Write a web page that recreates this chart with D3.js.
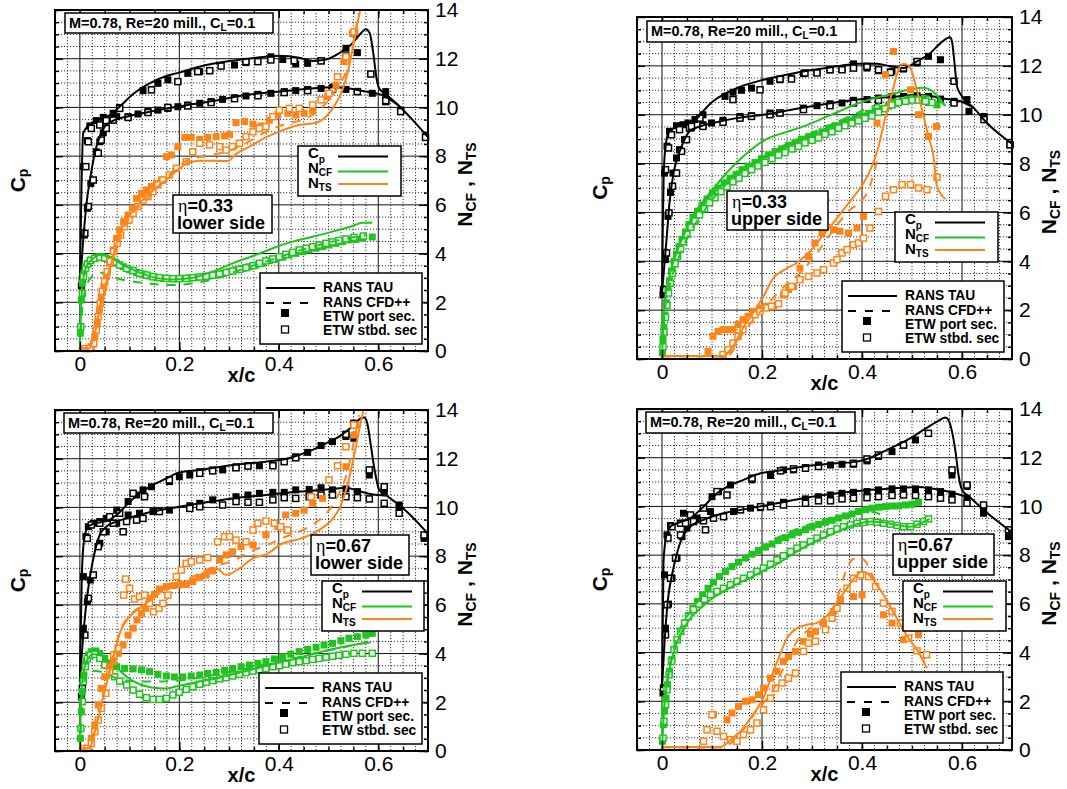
<!DOCTYPE html>
<html><head><meta charset="utf-8">
<script src="https://cdn.jsdelivr.net/npm/d3@7"></script>
<style>
body{margin:0;background:#fff}
svg{display:block}
text{font-family:"Liberation Sans",Arial,Helvetica,sans-serif}
</style></head>
<body><svg id="chart" width="1067" height="789"></svg>
<script>
// ---------- axes / labels ----------
const xDomain = [-0.05, 0.7];
const nDomain = [0, 14];
const xTicks = [0, 0.2, 0.4, 0.6];
const xTickLabels = ["0", "0.2", "0.4", "0.6"];
const nTicks = [0, 2, 4, 6, 8, 10, 12, 14];
const etaLabels = ["0.33", "0.33", "0.67", "0.67"];
const sideLabels = ["lower side", "upper side", "lower side", "upper side"];
const legendA = [["C", "p"], ["N", "CF"], ["N", "TS"]];
const legendB = ["RANS TAU", "RANS CFD++", "ETW port sec.", "ETW stbd. sec"];

// ---------- panel 1 : eta=0.33 lower side ----------
const p1CpTauUp = [[0,2.64],[0.0067,8.94],[0.0167,9.24],[0.033,9.48],[0.06,9.69],[0.08,10.03],[0.107,10.55],[0.14,10.99],[0.174,11.29],[0.2,11.43],[0.24,11.67],[0.307,11.92],[0.374,12.08],[0.40,12.12],[0.441,12.04],[0.468,11.91],[0.495,11.97],[0.521,12.22],[0.548,12.63],[0.568,13.11],[0.575,13.21],[0.583,13.04],[0.59,12.22],[0.596,11.26],[0.602,10.78],[0.615,10.55],[0.642,10.06],[0.668,9.51],[0.699,8.80]];
const p1CpTauLo = [[0,2.64],[0.0067,4.56],[0.0134,6.06],[0.0214,7.16],[0.03,8.12],[0.04,8.80],[0.05,9.21],[0.067,9.46],[0.094,9.62],[0.134,9.79],[0.174,9.96],[0.214,10.09],[0.267,10.26],[0.334,10.51],[0.401,10.65],[0.461,10.77],[0.508,10.83],[0.541,10.78],[0.575,10.65],[0.608,10.51],[0.642,10.06]];
const p1CpPort = [[0.003,2.67],[0.007,7.57],[0.015,8.64],[0.02,9.24],[0.033,9.46],[0.047,9.59],[0.067,9.76],[0.08,10.0],[0.127,10.69],[0.144,10.74],[0.157,10.99],[0.177,11.13],[0.217,11.40],[0.241,11.47],[0.261,11.51],[0.311,11.74],[0.334,11.84],[0.384,12.08],[0.408,11.97],[0.434,11.78],[0.458,11.81],[0.485,11.92],[0.535,12.43],[0.558,12.25],[0.615,10.65],[0.645,9.89],[0.695,8.80],
  [0.009,4.76],[0.015,5.86],[0.022,6.88],[0.033,8.18],[0.04,8.59],[0.047,8.96],[0.06,9.48],[0.074,9.62],[0.097,9.62],[0.117,9.73],[0.137,9.83],[0.157,9.89],[0.177,9.96],[0.197,10.03],[0.217,10.10],[0.241,10.17],[0.264,10.24],[0.287,10.33],[0.311,10.40],[0.334,10.47],[0.358,10.54],[0.384,10.58],[0.411,10.65],[0.434,10.69],[0.458,10.74],[0.485,10.78],[0.508,10.83],[0.535,10.74],[0.558,10.65],[0.588,10.58],[0.615,10.31]];
const p1CpStbd = [[0.005,2.92],[0.012,7.57],[0.017,8.59],[0.023,9.14],[0.04,9.28],[0.053,9.46],[0.08,9.96],[0.144,10.72],[0.197,11.06],[0.237,11.47],[0.261,11.51],[0.284,11.70],[0.334,11.88],[0.358,11.88],[0.384,11.95],[0.431,11.92],[0.485,11.91],[0.535,12.11],[0.551,13.04],[0.585,11.37],[0.615,10.24],[0.645,9.83],[0.695,8.77],
  [0.01,4.83],[0.017,5.93],[0.027,7.02],[0.037,8.12],[0.043,8.66],[0.053,9.14],[0.067,9.48],[0.097,9.59],[0.137,9.79],[0.177,10.0],[0.217,10.06],[0.264,10.20],[0.311,10.36],[0.358,10.48],[0.411,10.61],[0.458,10.69],[0.508,10.74],[0.558,10.65],[0.615,10.28]];
const p1NcfTau = [[0,0.04],[0.003,2.09],[0.0067,2.92],[0.013,3.46],[0.027,3.80],[0.04,3.94],[0.053,3.90],[0.07,3.74],[0.087,3.53],[0.107,3.33],[0.134,3.12],[0.16,2.98],[0.187,2.94],[0.227,3.01],[0.267,3.26],[0.307,3.60],[0.348,3.90],[0.388,4.22],[0.428,4.49],[0.468,4.69],[0.508,4.90],[0.548,5.13],[0.568,5.27],[0.588,5.27]];
const p1NcfCfd = [[0,0.04],[0.0067,2.1],[0.02,2.95],[0.04,3.22],[0.067,3.02],[0.107,2.85],[0.147,2.75],[0.187,2.71],[0.227,2.78],[0.267,2.94],[0.307,3.22],[0.374,3.67],[0.441,4.12],[0.508,4.49],[0.575,4.76]];
const p1NcfPort = [[0.001,0.73],[0.003,2.09],[0.005,2.78],[0.008,3.19],[0.012,3.46],[0.017,3.60],[0.023,3.74],[0.033,3.85],[0.043,3.87],[0.053,3.80],[0.064,3.74],[0.074,3.60],[0.087,3.46],[0.10,3.33],[0.114,3.22],[0.127,3.16],[0.14,3.08],[0.154,3.02],[0.167,2.98],[0.18,2.97],[0.194,2.97],[0.207,2.98],[0.221,3.0],[0.234,3.02],[0.247,3.05],[0.261,3.08],[0.274,3.12],[0.287,3.19],[0.301,3.26],[0.314,3.33],[0.328,3.39],[0.341,3.46],[0.354,3.53],[0.368,3.60],[0.381,3.71],[0.394,3.76],[0.408,3.85],[0.421,3.94],[0.434,4.01],[0.448,4.08],[0.461,4.15],[0.475,4.22],[0.488,4.28],[0.501,4.35],[0.515,4.42],[0.528,4.49],[0.541,4.56],[0.555,4.58],[0.568,4.63],[0.588,4.68]];
const p1NcfStbd = [[0.002,1.0],[0.005,2.37],[0.007,3.05],[0.011,3.39],[0.015,3.57],[0.021,3.71],[0.03,3.80],[0.04,3.85],[0.05,3.82],[0.06,3.74],[0.07,3.65],[0.08,3.53],[0.094,3.39],[0.107,3.30],[0.12,3.19],[0.134,3.12],[0.147,3.05],[0.16,3.01],[0.174,2.98],[0.187,2.97],[0.2,2.97],[0.214,2.98],[0.227,3.01],[0.241,3.04],[0.254,3.07],[0.267,3.11],[0.281,3.16],[0.294,3.22],[0.307,3.28],[0.321,3.35],[0.334,3.42],[0.348,3.50],[0.361,3.60],[0.374,3.70],[0.388,3.78],[0.401,3.87],[0.414,3.97],[0.428,4.05],[0.441,4.15],[0.455,4.22],[0.468,4.28],[0.481,4.35],[0.495,4.42],[0.508,4.48],[0.521,4.54],[0.535,4.60],[0.551,4.67],[0.57,4.72]];
const p1NtsTau = [[0,0.1],[0.019,0.1],[0.03,0.73],[0.04,1.68],[0.053,2.78],[0.067,3.87],[0.08,4.83],[0.094,5.38],[0.114,5.93],[0.14,6.47],[0.174,7.02],[0.2,7.50],[0.221,7.75],[0.247,7.81],[0.274,7.81],[0.297,7.80],[0.314,8.09],[0.341,8.39],[0.374,8.77],[0.408,9.07],[0.441,9.28],[0.475,9.37],[0.498,9.69],[0.515,10.17],[0.528,10.72],[0.538,11.40],[0.548,12.36],[0.558,13.45],[0.567,14.3]];
const p1NtsCfd = [[0,0.1],[0.017,0.1],[0.027,0.59],[0.04,1.82],[0.067,3.87],[0.094,5.24],[0.14,6.34],[0.18,7.23],[0.214,7.80],[0.254,8.01],[0.294,8.18],[0.334,8.53],[0.374,9.0],[0.414,9.32],[0.455,9.55],[0.481,9.89],[0.501,10.31],[0.521,10.92],[0.538,11.61],[0.551,12.77],[0.56,13.86]];
const p1NtsPort = [[0.007,0.1],[0.015,0.1],[0.023,0.18],[0.03,0.59],[0.035,1.14],[0.039,1.68],[0.043,2.23],[0.048,2.64],[0.053,3.05],[0.06,3.60],[0.067,4.15],[0.074,4.63],[0.08,4.97],[0.088,5.31],[0.097,5.58],[0.106,5.86],[0.114,6.27],[0.124,6.47],[0.134,6.61],[0.144,6.75],[0.154,6.88],[0.164,7.02],[0.174,7.98],[0.184,8.05],[0.197,8.39],[0.211,8.77],[0.224,8.77],[0.241,8.69],[0.257,8.77],[0.274,8.80],[0.291,8.83],[0.301,8.88],[0.314,9.37],[0.331,9.42],[0.348,9.32],[0.364,9.24],[0.381,9.48],[0.398,9.69],[0.418,9.76],[0.434,9.69],[0.451,9.76],[0.468,9.85],[0.498,10.44],[0.515,10.92],[0.531,11.88],[0.548,13.04],[0.553,13.11]];
const p1NtsStbd = [[0.01,0.1],[0.02,0.1],[0.028,0.31],[0.033,0.86],[0.037,1.41],[0.041,1.96],[0.045,2.44],[0.05,2.85],[0.055,3.26],[0.061,3.67],[0.068,4.08],[0.075,4.42],[0.082,4.76],[0.09,5.10],[0.099,5.38],[0.107,5.65],[0.117,5.93],[0.127,6.20],[0.137,6.34],[0.147,6.54],[0.157,6.82],[0.167,7.02],[0.18,7.23],[0.194,7.50],[0.214,7.77],[0.227,8.18],[0.241,8.53],[0.261,8.46],[0.281,8.39],[0.294,8.25],[0.307,8.39],[0.321,8.53],[0.334,8.80],[0.348,9.0],[0.361,9.14],[0.374,9.21],[0.388,9.62],[0.401,9.89],[0.421,9.96],[0.441,9.96],[0.468,10.10],[0.485,10.31],[0.501,10.58],[0.518,11.26],[0.535,12.08],[0.551,13.11]];

// ---------- panel 2 : eta=0.33 upper side ----------
const p2CpTauUp = [[0,2.70],[0.004,7.89],[0.009,8.98],[0.015,9.32],[0.029,9.50],[0.049,9.66],[0.069,9.82],[0.082,10.14],[0.102,10.55],[0.129,10.89],[0.162,11.19],[0.203,11.43],[0.249,11.64],[0.296,11.82],[0.35,11.98],[0.39,12.09],[0.43,12.09],[0.457,11.98],[0.483,11.91],[0.51,12.18],[0.537,12.53],[0.557,12.93],[0.576,13.17],[0.58,13.0],[0.585,12.12],[0.59,11.16],[0.6,10.75],[0.624,10.27],[0.65,9.66],[0.70,8.81]];
const p2CpTauLo = [[0,2.70],[0.009,4.88],[0.015,6.39],[0.023,7.61],[0.032,8.30],[0.042,8.84],[0.055,9.32],[0.076,9.52],[0.102,9.66],[0.149,9.86],[0.203,10.0],[0.243,10.14],[0.296,10.34],[0.35,10.51],[0.403,10.64],[0.457,10.72],[0.51,10.81],[0.543,10.75],[0.57,10.64],[0.597,10.55],[0.624,10.27]];
const p2CpPort = [[0.002,2.63],[0.005,7.61],[0.01,8.71],[0.015,9.32],[0.029,9.55],[0.042,9.59],[0.052,9.66],[0.066,9.80],[0.082,10.0],[0.126,10.75],[0.142,10.92],[0.159,11.0],[0.179,11.09],[0.216,11.37],[0.236,11.43],[0.259,11.50],[0.283,11.68],[0.31,11.73],[0.336,11.84],[0.36,11.87],[0.383,12.08],[0.41,11.91],[0.433,11.80],[0.46,11.78],[0.483,11.87],[0.51,12.12],[0.533,12.39],[0.557,12.25],[0.61,10.62],[0.644,9.93],[0.696,8.77],
  [0.007,4.07],[0.012,5.84],[0.017,6.82],[0.022,7.61],[0.029,8.23],[0.035,8.57],[0.045,8.98],[0.059,9.46],[0.082,9.59],[0.099,9.66],[0.122,9.77],[0.156,9.93],[0.179,9.96],[0.216,10.07],[0.236,10.07],[0.283,10.27],[0.31,10.37],[0.336,10.45],[0.36,10.48],[0.383,10.59],[0.41,10.62],[0.433,10.68],[0.46,10.75],[0.483,10.75],[0.51,10.78],[0.533,10.75],[0.557,10.64],[0.584,10.55],[0.614,10.14]];
const p2CpStbd = [[0.003,2.84],[0.007,7.75],[0.013,8.64],[0.019,9.18],[0.035,9.39],[0.055,9.46],[0.076,9.86],[0.142,10.62],[0.196,11.02],[0.236,11.46],[0.259,11.46],[0.286,11.71],[0.31,11.71],[0.336,11.84],[0.36,11.84],[0.383,11.91],[0.41,11.98],[0.433,11.84],[0.457,11.73],[0.483,11.91],[0.51,12.18],[0.584,11.37],[0.644,9.80],[0.696,8.77],
  [0.009,4.34],[0.014,5.98],[0.021,7.07],[0.029,7.61],[0.039,8.50],[0.049,8.98],[0.059,9.52],[0.082,9.52],[0.122,9.69],[0.156,9.86],[0.179,9.93],[0.216,10.0],[0.236,10.07],[0.283,10.21],[0.336,10.37],[0.383,10.48],[0.433,10.59],[0.483,10.68],[0.533,10.68],[0.584,10.48]];
const p2NcfTau = [[0,0],[0.002,1.1],[0.005,2.2],[0.012,3.1],[0.02,3.8],[0.03,4.4],[0.042,5.0],[0.055,5.6],[0.076,6.3],[0.1,6.9],[0.12,7.4],[0.14,7.85],[0.16,8.25],[0.18,8.6],[0.2,8.9],[0.22,9.1],[0.25,9.3],[0.28,9.5],[0.31,9.75],[0.35,10.1],[0.39,10.45],[0.42,10.65],[0.46,10.85],[0.5,11.05],[0.523,11.1],[0.547,10.85],[0.567,10.35]];
const p2NcfCfd = [[0,0],[0.005,1.8],[0.015,3.0],[0.029,3.9],[0.049,4.9],[0.082,6.0],[0.116,6.9],[0.149,7.5],[0.182,8.0],[0.216,8.45],[0.249,8.8],[0.283,9.1],[0.316,9.4],[0.35,9.7],[0.383,10.0],[0.416,10.3],[0.45,10.55],[0.483,10.72],[0.517,10.78],[0.55,10.64],[0.567,10.34]];
const p2NcfPort = [[0.001,0.25],[0.002,0.8],[0.004,1.3],[0.006,1.8],[0.009,2.3],[0.012,2.8],[0.015,3.2],[0.019,3.6],[0.024,4.0],[0.029,4.3],[0.034,4.6],[0.04,4.9],[0.047,5.2],[0.054,5.5],[0.062,5.8],[0.071,6.05],[0.08,6.3],[0.09,6.55],[0.101,6.8],[0.112,7.0],[0.124,7.2],[0.136,7.4],[0.148,7.55],[0.16,7.75],[0.172,7.9],[0.186,8.05],[0.199,8.2],[0.213,8.35],[0.226,8.5],[0.239,8.6],[0.253,8.75],[0.266,8.85],[0.279,9.0],[0.293,9.1],[0.306,9.2],[0.32,9.3],[0.333,9.45],[0.346,9.55],[0.36,9.65],[0.373,9.75],[0.386,9.85],[0.4,9.95],[0.413,10.05],[0.426,10.15],[0.44,10.25],[0.453,10.35],[0.467,10.45],[0.48,10.55],[0.493,10.6],[0.507,10.65],[0.52,10.6],[0.533,10.5],[0.55,10.4]];
const p2NcfStbd = [[0.002,0.5],[0.004,1.1],[0.007,1.7],[0.01,2.2],[0.013,2.7],[0.017,3.1],[0.021,3.5],[0.026,3.9],[0.031,4.2],[0.037,4.5],[0.043,4.8],[0.05,5.1],[0.058,5.4],[0.066,5.65],[0.075,5.9],[0.085,6.15],[0.095,6.4],[0.106,6.6],[0.118,6.85],[0.13,7.05],[0.142,7.25],[0.154,7.4],[0.166,7.6],[0.179,7.75],[0.192,7.9],[0.206,8.05],[0.22,8.2],[0.233,8.35],[0.246,8.45],[0.26,8.6],[0.273,8.7],[0.286,8.85],[0.3,8.95],[0.313,9.05],[0.326,9.2],[0.34,9.3],[0.353,9.45],[0.366,9.55],[0.38,9.65],[0.393,9.75],[0.406,9.85],[0.42,9.95],[0.433,10.1],[0.446,10.25],[0.46,10.4],[0.473,10.5],[0.487,10.55],[0.5,10.6],[0.513,10.6],[0.527,10.55],[0.54,10.5]];
const p2NtsTau = [[0,0.12],[0.122,0.12],[0.142,0.52],[0.162,1.27],[0.182,1.88],[0.203,2.57],[0.223,3.32],[0.243,3.63],[0.269,3.93],[0.296,4.41],[0.323,5.09],[0.35,5.77],[0.376,6.45],[0.403,7.20],[0.42,7.89],[0.433,8.70],[0.447,9.93],[0.46,10.89],[0.473,11.84],[0.483,12.09],[0.495,11.98],[0.507,11.23],[0.52,10.21],[0.533,9.11],[0.543,8.30],[0.55,7.07],[0.567,6.55]];
const p2NtsCfd = [[0,0.1],[0.129,0.1],[0.162,1.06],[0.189,1.75],[0.216,2.36],[0.243,2.95],[0.276,3.52],[0.31,4.34],[0.343,5.29],[0.376,6.11],[0.4,6.49],[0.416,7.07],[0.426,7.82],[0.435,8.36]];
const p2NtsPort = [[0.092,0.31],[0.102,0.93],[0.112,1.13],[0.122,1.20],[0.132,1.20],[0.142,1.20],[0.152,1.41],[0.162,1.61],[0.172,1.75],[0.182,1.95],[0.196,2.09],[0.209,2.16],[0.223,2.16],[0.243,2.63],[0.253,2.84],[0.263,2.97],[0.276,3.72],[0.293,4.20],[0.306,4.75],[0.32,5.16],[0.343,5.29],[0.356,5.23],[0.373,5.16],[0.39,5.36],[0.403,5.84],[0.43,9.66],[0.447,11.64],[0.463,12.59],[0.497,11.02],[0.513,10.0],[0.533,9.11],[0.549,9.52]];
const p2NtsStbd = [[0.122,0.18],[0.132,0.38],[0.142,0.65],[0.152,0.93],[0.162,1.20],[0.176,1.61],[0.186,1.81],[0.196,1.95],[0.209,2.09],[0.219,2.16],[0.233,2.26],[0.246,2.70],[0.259,2.97],[0.276,3.25],[0.293,3.38],[0.31,3.52],[0.323,3.66],[0.343,3.93],[0.35,4.07],[0.36,4.34],[0.37,4.48],[0.383,4.68],[0.393,4.75],[0.403,4.95],[0.416,5.36],[0.433,6.04],[0.447,6.66],[0.463,6.93],[0.48,7.14],[0.497,7.14],[0.513,7.0],[0.53,6.93],[0.55,7.44]];

// ---------- panel 3 : eta=0.67 lower side ----------
const p3CpTauUp = [[0,2.85],[0.005,7.77],[0.01,8.87],[0.017,9.21],[0.03,9.35],[0.053,9.44],[0.074,9.69],[0.094,10.10],[0.12,10.58],[0.147,10.92],[0.174,11.19],[0.2,11.44],[0.241,11.54],[0.307,11.74],[0.374,11.88],[0.414,11.99],[0.441,12.15],[0.468,12.36],[0.495,12.63],[0.521,12.91],[0.548,13.32],[0.565,13.66],[0.572,13.69],[0.578,13.45],[0.585,12.56],[0.592,11.61],[0.602,10.72],[0.615,10.51],[0.642,10.10],[0.668,9.62],[0.699,8.94]];
const p3CpTauLo = [[0,2.85],[0.008,5.04],[0.015,6.40],[0.021,7.23],[0.03,8.18],[0.04,8.87],[0.053,9.21],[0.074,9.42],[0.107,9.62],[0.147,9.83],[0.2,10.03],[0.241,10.17],[0.307,10.37],[0.374,10.51],[0.441,10.65],[0.508,10.76],[0.535,10.81],[0.561,10.67],[0.588,10.54],[0.615,10.48]];
const p3CpPort = [[0.003,2.23],[0.007,7.16],[0.012,8.80],[0.017,9.21],[0.027,9.35],[0.04,9.42],[0.053,9.55],[0.074,9.89],[0.097,10.24],[0.114,10.51],[0.127,10.72],[0.144,10.85],[0.18,11.06],[0.2,11.26],[0.221,11.33],[0.241,11.47],[0.267,11.54],[0.287,11.54],[0.314,11.67],[0.338,11.71],[0.361,11.71],[0.388,11.74],[0.411,11.88],[0.434,12.08],[0.458,12.26],[0.485,12.54],[0.508,12.70],[0.535,12.91],[0.551,12.84],[0.582,11.33],[0.612,10.65],[0.642,10.03],[0.692,8.73],
  [0.007,5.04],[0.015,6.13],[0.021,7.02],[0.04,8.53],[0.053,9.0],[0.074,9.35],[0.097,9.69],[0.12,9.76],[0.147,9.83],[0.18,9.89],[0.221,10.07],[0.241,10.17],[0.267,10.31],[0.314,10.44],[0.338,10.51],[0.361,10.58],[0.388,10.62],[0.411,10.62],[0.434,10.72],[0.461,10.74],[0.485,10.81],[0.508,10.72],[0.535,10.76],[0.558,10.65],[0.612,10.76],[0.642,10.10]];
const p3CpStbd = [[0.005,2.57],[0.01,4.76],[0.015,8.73],[0.023,9.28],[0.04,9.35],[0.06,9.62],[0.08,9.76],[0.107,10.58],[0.13,10.44],[0.18,11.13],[0.241,11.40],[0.267,11.50],[0.314,11.63],[0.338,11.70],[0.388,11.71],[0.411,11.88],[0.434,12.04],[0.535,13.0],[0.551,13.45],[0.582,11.54],[0.612,10.85],[0.642,9.76],[0.692,8.87],
  [0.017,6.27],[0.027,7.23],[0.037,8.39],[0.047,9.0],[0.067,9.35],[0.087,9.0],[0.094,9.42],[0.114,9.48],[0.127,9.55],[0.16,9.83],[0.221,9.96],[0.241,10.03],[0.287,10.10],[0.314,10.24],[0.338,10.21],[0.361,10.21],[0.388,10.31],[0.411,10.40],[0.434,10.37],[0.461,10.44],[0.485,10.51],[0.508,10.51],[0.535,10.44],[0.558,10.40],[0.582,10.35],[0.612,10.17]];
const p3NcfTau = [[0,0.04],[0.003,2.30],[0.008,3.26],[0.015,3.74],[0.027,3.97],[0.04,3.94],[0.053,3.78],[0.07,3.50],[0.094,3.05],[0.12,2.74],[0.147,2.60],[0.174,2.57],[0.2,2.68],[0.241,2.85],[0.281,3.01],[0.321,3.22],[0.361,3.42],[0.401,3.64],[0.441,3.83],[0.481,4.05],[0.521,4.24],[0.561,4.39],[0.585,4.46]];
const p3NcfCfd = [[0,0.04],[0.007,2.55],[0.017,3.3],[0.04,3.26],[0.074,2.98],[0.107,2.87],[0.147,2.85],[0.187,2.87],[0.227,2.98],[0.267,3.12],[0.321,3.33],[0.374,3.56],[0.428,3.80],[0.481,4.05],[0.535,4.28],[0.585,4.49]];
const p3NcfPort = [[0.001,0.52],[0.003,1.61],[0.005,2.44],[0.008,3.12],[0.012,3.67],[0.017,3.94],[0.023,4.08],[0.032,4.11],[0.04,4.01],[0.05,3.80],[0.06,3.60],[0.074,3.46],[0.09,3.39],[0.107,3.37],[0.124,3.33],[0.14,3.26],[0.157,3.15],[0.174,3.08],[0.19,3.04],[0.207,3.04],[0.224,3.08],[0.241,3.12],[0.257,3.18],[0.274,3.23],[0.291,3.31],[0.307,3.39],[0.324,3.46],[0.341,3.53],[0.358,3.60],[0.374,3.67],[0.391,3.78],[0.408,3.87],[0.424,3.97],[0.441,4.08],[0.458,4.17],[0.475,4.26],[0.491,4.35],[0.508,4.42],[0.525,4.53],[0.541,4.63],[0.558,4.69],[0.575,4.76],[0.588,4.83]];
const p3NcfStbd = [[0.002,0.93],[0.005,2.03],[0.007,2.85],[0.011,3.46],[0.015,3.80],[0.021,3.94],[0.03,3.97],[0.04,3.80],[0.05,3.53],[0.06,3.26],[0.07,3.05],[0.08,2.87],[0.094,2.71],[0.107,2.50],[0.12,2.33],[0.134,2.19],[0.147,2.12],[0.16,2.12],[0.174,2.16],[0.187,2.30],[0.2,2.41],[0.214,2.53],[0.227,2.64],[0.241,2.74],[0.254,2.82],[0.267,2.89],[0.281,2.96],[0.294,3.01],[0.307,3.08],[0.321,3.15],[0.334,3.22],[0.348,3.28],[0.361,3.34],[0.374,3.39],[0.388,3.46],[0.401,3.50],[0.414,3.56],[0.428,3.63],[0.441,3.67],[0.455,3.71],[0.468,3.76],[0.481,3.80],[0.495,3.85],[0.508,3.89],[0.521,3.93],[0.535,3.97],[0.551,4.01],[0.568,4.01],[0.588,4.01]];
const p3NtsTau = [[0,0.1],[0.019,0.1],[0.03,0.79],[0.04,1.61],[0.053,2.71],[0.067,3.80],[0.08,4.83],[0.10,5.52],[0.12,5.86],[0.147,6.27],[0.174,6.68],[0.2,6.84],[0.227,7.06],[0.254,7.36],[0.274,7.50],[0.294,7.23],[0.321,7.50],[0.348,7.91],[0.374,8.07],[0.408,8.53],[0.441,8.70],[0.481,9.07],[0.508,9.53],[0.525,10.10],[0.538,10.92],[0.549,11.88],[0.561,13.11],[0.572,14.2]];
const p3NtsCfd = [[0,0.1],[0.019,0.1],[0.03,0.86],[0.04,1.68],[0.053,2.78],[0.067,3.87],[0.08,4.87],[0.10,5.56],[0.12,5.91],[0.147,6.34],[0.174,6.73],[0.2,6.92],[0.227,7.16],[0.254,7.43],[0.281,7.64],[0.307,7.80],[0.341,8.18],[0.374,8.43],[0.414,8.80],[0.455,9.14],[0.481,9.48],[0.501,9.89],[0.521,10.58],[0.538,11.47],[0.551,12.70],[0.561,13.79]];
const p3NtsPort = [[0.01,0.1],[0.017,0.11],[0.023,0.52],[0.03,1.07],[0.037,1.89],[0.043,2.57],[0.05,3.05],[0.059,3.46],[0.067,3.67],[0.077,4.01],[0.087,4.35],[0.097,4.76],[0.107,5.04],[0.115,5.38],[0.124,5.65],[0.132,5.86],[0.14,6.27],[0.15,6.43],[0.16,6.65],[0.174,6.75],[0.187,6.79],[0.2,6.82],[0.214,6.84],[0.227,6.95],[0.241,7.12],[0.254,7.23],[0.267,7.39],[0.281,7.84],[0.294,8.05],[0.307,8.18],[0.324,8.39],[0.348,8.46],[0.374,8.87],[0.398,9.21],[0.414,9.69],[0.434,9.76],[0.451,9.89],[0.468,10.17],[0.488,10.37],[0.535,11.67],[0.551,12.97],[0.555,13.38]];
const p3NtsStbd = [[0.007,0.1],[0.015,0.11],[0.023,0.31],[0.03,0.79],[0.037,1.27],[0.043,1.75],[0.052,2.37],[0.06,3.26],[0.068,3.94],[0.077,4.22],[0.092,7.06],[0.088,6.40],[0.1,6.68],[0.11,6.24],[0.12,6.34],[0.13,6.40],[0.14,6.06],[0.148,5.72],[0.159,5.86],[0.167,6.06],[0.177,6.40],[0.194,7.16],[0.204,7.43],[0.214,7.70],[0.224,7.77],[0.241,7.84],[0.257,7.94],[0.277,8.59],[0.291,8.80],[0.301,8.80],[0.314,8.66],[0.334,8.59],[0.348,9.07],[0.358,9.35],[0.374,9.44],[0.391,9.35],[0.404,9.21],[0.418,9.07],[0.465,10.44],[0.501,11.13],[0.518,11.71],[0.535,12.49],[0.551,13.38]];

// ---------- panel 4 : eta=0.67 upper side ----------
const p4CpTauUp = [[0,2.54],[0.003,7.74],[0.009,8.83],[0.017,9.17],[0.03,9.31],[0.057,9.52],[0.083,9.99],[0.11,10.54],[0.137,10.88],[0.163,11.09],[0.197,11.36],[0.23,11.46],[0.283,11.64],[0.35,11.77],[0.39,11.84],[0.417,12.0],[0.443,12.25],[0.47,12.52],[0.497,12.80],[0.523,13.14],[0.55,13.48],[0.567,13.65],[0.573,13.55],[0.58,13.07],[0.587,12.25],[0.593,11.29],[0.60,10.68],[0.617,10.36],[0.643,9.86],[0.70,8.94]];
const p4CpTauLo = [[0,2.54],[0.007,5.0],[0.013,6.37],[0.02,7.19],[0.029,8.01],[0.04,8.70],[0.057,9.17],[0.083,9.45],[0.123,9.72],[0.177,9.93],[0.23,10.13],[0.283,10.34],[0.35,10.54],[0.417,10.68],[0.483,10.77],[0.51,10.80],[0.537,10.75],[0.563,10.65],[0.59,10.51],[0.617,10.36]];
const p4CpPort = [[0.002,2.34],[0.005,7.19],[0.01,8.83],[0.017,9.22],[0.043,9.72],[0.1,10.40],[0.113,10.61],[0.137,10.88],[0.18,11.09],[0.217,11.27],[0.243,11.50],[0.263,11.50],[0.287,11.59],[0.313,11.70],[0.337,11.70],[0.36,11.73],[0.383,11.73],[0.41,11.87],[0.433,12.05],[0.46,12.25],[0.483,12.52],[0.507,12.73],[0.58,11.29],[0.61,10.82],[0.643,9.72],[0.693,8.76],
  [0.007,5.0],[0.013,5.99],[0.02,7.05],[0.03,7.88],[0.04,8.76],[0.05,9.11],[0.07,9.52],[0.097,9.79],[0.143,9.79],[0.177,9.93],[0.197,9.95],[0.217,10.06],[0.243,10.17],[0.287,10.31],[0.313,10.40],[0.337,10.47],[0.36,10.54],[0.383,10.58],[0.41,10.61],[0.433,10.68],[0.46,10.72],[0.483,10.72],[0.507,10.72],[0.533,10.68],[0.557,10.61],[0.58,10.50],[0.61,10.34],[0.643,9.93]];
const p4CpStbd = [[0.003,2.54],[0.007,4.73],[0.012,8.70],[0.02,9.17],[0.037,9.31],[0.057,9.65],[0.083,9.93],[0.11,10.61],[0.13,10.47],[0.18,11.16],[0.237,11.46],[0.263,11.54],[0.287,11.57],[0.313,11.64],[0.383,11.77],[0.41,11.95],[0.433,12.11],[0.483,12.52],[0.533,13.0],[0.58,11.50],[0.61,10.88],[0.643,10.06],[0.693,9.04],
  [0.01,5.96],[0.017,7.05],[0.027,7.88],[0.037,8.83],[0.047,9.31],[0.063,9.38],[0.083,9.41],[0.087,9.04],[0.103,9.52],[0.123,9.58],[0.157,9.86],[0.197,9.99],[0.217,9.99],[0.243,10.06],[0.287,10.13],[0.313,10.23],[0.337,10.23],[0.36,10.31],[0.383,10.34],[0.41,10.36],[0.433,10.40],[0.46,10.45],[0.483,10.47],[0.507,10.45],[0.533,10.40],[0.557,10.34],[0.58,10.27],[0.61,10.13]];
const p4NcfTau = [[0,0],[0.002,0.90],[0.005,1.86],[0.01,2.68],[0.017,3.50],[0.027,4.25],[0.04,4.87],[0.057,5.41],[0.077,5.82],[0.097,6.17],[0.123,6.51],[0.15,6.81],[0.177,7.08],[0.203,7.36],[0.23,7.63],[0.257,7.98],[0.283,8.31],[0.31,8.59],[0.337,8.83],[0.363,9.08],[0.39,9.27],[0.417,9.38],[0.443,9.35],[0.47,9.24],[0.497,9.17],[0.517,9.31],[0.535,9.49]];
const p4NcfCfd = [[0,0],[0.003,1.45],[0.01,2.82],[0.02,3.91],[0.037,5.0],[0.057,5.69],[0.083,6.37],[0.11,6.99],[0.137,7.47],[0.163,7.88],[0.19,8.22],[0.217,8.56],[0.25,8.90],[0.283,9.17],[0.323,9.45],[0.363,9.65],[0.397,9.76],[0.423,9.76],[0.44,9.63]];
const p4NcfPort = [[0.001,0.36],[0.003,1.04],[0.005,1.59],[0.008,2.13],[0.011,2.68],[0.015,3.23],[0.02,3.71],[0.025,4.12],[0.031,4.53],[0.038,4.87],[0.045,5.21],[0.053,5.52],[0.062,5.82],[0.071,6.10],[0.081,6.37],[0.092,6.64],[0.103,6.89],[0.115,7.12],[0.127,7.33],[0.14,7.53],[0.153,7.71],[0.167,7.88],[0.18,8.04],[0.193,8.19],[0.207,8.33],[0.22,8.46],[0.233,8.60],[0.247,8.72],[0.26,8.83],[0.273,8.94],[0.287,9.05],[0.30,9.16],[0.313,9.26],[0.327,9.35],[0.34,9.43],[0.353,9.52],[0.367,9.61],[0.38,9.69],[0.393,9.79],[0.407,9.86],[0.42,9.93],[0.433,9.97],[0.447,9.99],[0.46,10.02],[0.473,10.02],[0.487,10.06],[0.50,10.09],[0.513,10.17]];
const p4NcfStbd = [[0.002,0.49],[0.004,1.18],[0.007,1.86],[0.01,2.47],[0.014,3.09],[0.019,3.64],[0.024,4.12],[0.03,4.53],[0.037,4.87],[0.045,5.21],[0.053,5.48],[0.063,5.76],[0.074,5.99],[0.085,6.19],[0.097,6.37],[0.11,6.51],[0.123,6.64],[0.137,6.78],[0.15,6.92],[0.163,7.05],[0.177,7.19],[0.19,7.33],[0.203,7.47],[0.217,7.63],[0.23,7.81],[0.243,7.98],[0.257,8.15],[0.27,8.29],[0.283,8.42],[0.297,8.56],[0.31,8.70],[0.323,8.83],[0.337,8.97],[0.35,9.08],[0.363,9.17],[0.377,9.24],[0.39,9.31],[0.403,9.35],[0.417,9.38],[0.43,9.35],[0.443,9.31],[0.457,9.27],[0.47,9.22],[0.483,9.17],[0.497,9.17],[0.51,9.27],[0.523,9.38],[0.533,9.49]];
const p4NtsTau = [[0,0.12],[0.117,0.12],[0.137,0.42],[0.157,0.77],[0.177,1.31],[0.193,1.79],[0.207,2.34],[0.22,3.09],[0.233,3.77],[0.25,4.59],[0.27,5.0],[0.29,5.14],[0.31,5.22],[0.33,5.52],[0.35,6.07],[0.37,6.64],[0.387,7.12],[0.40,7.33],[0.413,7.22],[0.427,6.85],[0.443,6.37],[0.46,5.76],[0.477,5.14],[0.493,4.59],[0.51,4.12],[0.53,3.36]];
const p4NtsCfd = [[0,0.1],[0.123,0.1],[0.147,0.49],[0.17,1.04],[0.193,1.72],[0.217,2.27],[0.243,3.36],[0.27,4.46],[0.297,5.0],[0.323,5.28],[0.343,5.82],[0.357,6.64],[0.37,7.47],[0.383,7.85],[0.395,7.90],[0.407,7.74],[0.417,7.33],[0.427,6.92]];
const p4NtsPort = [[0.103,1.45],[0.13,1.24],[0.14,1.52],[0.153,1.79],[0.167,2.0],[0.18,2.06],[0.193,2.27],[0.203,2.54],[0.217,2.95],[0.23,3.23],[0.243,3.64],[0.253,3.84],[0.267,4.05],[0.283,4.46],[0.297,4.76],[0.307,4.87],[0.323,5.21],[0.343,5.69],[0.357,6.17],[0.383,6.30],[0.40,6.37],[0.443,5.55],[0.46,5.21],[0.483,4.53],[0.513,4.73]];
const p4NtsStbd = [[0.083,0.36],[0.09,0.83],[0.1,1.45],[0.11,0.77],[0.123,0.56],[0.137,0.42],[0.15,0.36],[0.163,0.63],[0.177,0.83],[0.19,1.11],[0.203,1.65],[0.217,2.13],[0.227,2.54],[0.24,2.75],[0.253,2.95],[0.267,3.16],[0.283,4.05],[0.293,4.39],[0.307,4.46],[0.327,4.94],[0.34,5.41],[0.35,5.82],[0.37,6.64],[0.383,7.05],[0.397,7.19],[0.413,7.12],[0.427,6.71],[0.443,6.03],[0.46,5.69],[0.477,5.21],[0.493,4.59],[0.51,4.07],[0.529,3.91]];

// ---------- layout ----------
const panels = [
  {plot:[55,10,428,351], mBox:[65,13,208,20], etaBox:[173,195,99,38], legA:[298,146,103,50], legB:[260,273,162,71],
   cp:[p1CpTauUp,p1CpTauLo], cpPort:p1CpPort, cpStbd:p1CpStbd, ncfTau:p1NcfTau, ncfCfd:p1NcfCfd, ncfPort:p1NcfPort, ncfStbd:p1NcfStbd, ntsTau:p1NtsTau, ntsCfd:p1NtsCfd, ntsPort:p1NtsPort, ntsStbd:p1NtsStbd},
  {plot:[637,17,1012,359], mBox:[647,21,209,21], etaBox:[727,191,101,39], legA:[895,212,103,50], legB:[842,281,162,71],
   cp:[p2CpTauUp,p2CpTauLo], cpPort:p2CpPort, cpStbd:p2CpStbd, ncfTau:p2NcfTau, ncfCfd:p2NcfCfd, ncfPort:p2NcfPort, ncfStbd:p2NcfStbd, ntsTau:p2NtsTau, ntsCfd:p2NtsCfd, ntsPort:p2NtsPort, ntsStbd:p2NtsStbd},
  {plot:[55,410,428,751], mBox:[64,413,209,20], etaBox:[311,535,98,40], legA:[322,581,102,50], legB:[259,673,163,71],
   cp:[p3CpTauUp,p3CpTauLo], cpPort:p3CpPort, cpStbd:p3CpStbd, ncfTau:p3NcfTau, ncfCfd:p3NcfCfd, ncfPort:p3NcfPort, ncfStbd:p3NcfStbd, ntsTau:p3NtsTau, ntsCfd:p3NtsCfd, ntsPort:p3NtsPort, ntsStbd:p3NtsStbd},
  {plot:[637,409,1012,750], mBox:[646,412,209,21], etaBox:[893,534,101,41], legA:[903,581,103,50], legB:[841,672,162,71],
   cp:[p4CpTauUp,p4CpTauLo], cpPort:p4CpPort, cpStbd:p4CpStbd, ncfTau:p4NcfTau, ncfCfd:p4NcfCfd, ncfPort:p4NcfPort, ncfStbd:p4NcfStbd, ntsTau:p4NtsTau, ntsCfd:p4NtsCfd, ntsPort:p4NtsPort, ntsStbd:p4NtsStbd}
];

const BLACK = "#000", GREEN = "#1fc41f", ORANGE = "#ff8417";
const svg = d3.select("#chart");

panels.forEach((P, pi) => {
  const [l, t, r, b] = P.plot;
  const x = d3.scaleLinear().domain(xDomain).range([l, r]);
  const y = d3.scaleLinear().domain(nDomain).range([b, t]);
  const g = svg.append("g");
  const clipId = "clip" + pi;
  g.append("clipPath").attr("id", clipId).append("rect")
    .attr("x", l).attr("y", t).attr("width", r - l + 4).attr("height", b - t + 4);

  // grid
  const grid = g.append("g");
  d3.range(-1, 28).forEach(i => {
    const v = i * 0.025, major = (i % 8 === 0);
    grid.append("line").attr("x1", x(v)).attr("x2", x(v)).attr("y1", t).attr("y2", b)
      .attr("stroke", major ? "#111" : "#222").attr("stroke-width", major ? 1 : 0.9)
      .attr("stroke-dasharray", major ? null : "1.2,1.8");
  });
  d3.range(1, 28).forEach(j => {
    const v = j * 0.5, major = (j % 4 === 0);
    grid.append("line").attr("x1", l).attr("x2", r).attr("y1", y(v)).attr("y2", y(v))
      .attr("stroke", major ? "#111" : "#222").attr("stroke-width", major ? 1 : 0.9)
      .attr("stroke-dasharray", major ? null : "1.2,1.8");
  });

  const data = g.append("g").attr("clip-path", `url(#${clipId})`);
  const line = d3.line().x(d => x(d[0])).y(d => y(d[1])).curve(d3.curveMonotoneX);
  const filled = (arr, col, s) => data.append("g").selectAll("rect").data(arr).join("rect")
    .attr("x", d => x(d[0]) - s / 2).attr("y", d => y(d[1]) - s / 2)
    .attr("width", s).attr("height", s).attr("fill", col);
  const hollow = (arr, col, s) => data.append("g").selectAll("rect").data(arr).join("rect")
    .attr("x", d => x(d[0]) - s / 2).attr("y", d => y(d[1]) - s / 2)
    .attr("width", s).attr("height", s).attr("fill", "#fff").attr("stroke", col).attr("stroke-width", 1.5);
  const path = (arr, col, w, dash) => data.append("path").datum(arr).attr("d", line)
    .attr("fill", "none").attr("stroke", col).attr("stroke-width", w)
    .attr("stroke-dasharray", dash || null);

  // Cp
  filled(P.cpPort, BLACK, 7);
  hollow(P.cpStbd, BLACK, 6);
  P.cp.forEach(c => path(c, BLACK, 2));
  // N_CF
  filled(P.ncfPort, GREEN, 7);
  hollow(P.ncfStbd, GREEN, 6);
  path(P.ncfTau, GREEN, 2);
  path(P.ncfCfd, GREEN, 2, "9,8");
  // N_TS
  filled(P.ntsPort, ORANGE, 7);
  hollow(P.ntsStbd, ORANGE, 6);
  path(P.ntsTau, ORANGE, 2);
  path(P.ntsCfd, ORANGE, 2, "9,8");

  // axes
  const styleAxis = sel => { sel.select(".domain").remove(); sel.selectAll("line").attr("stroke", BLACK).attr("stroke-width", 1.4); };
  const minorN = d3.range(0, 28).map(j => j * 0.5);
  const minorX = d3.range(-1, 14).map(i => i * 0.05);
  g.append("g").attr("transform", `translate(${r},0)`)
    .call(d3.axisRight(y).tickValues(minorN).tickSize(-4).tickFormat("")).call(styleAxis);
  g.append("g").attr("transform", `translate(${l},0)`)
    .call(d3.axisLeft(y).tickValues(minorN).tickSize(-4).tickFormat("")).call(styleAxis);
  g.append("g").attr("transform", `translate(${l},0)`)
    .call(d3.axisLeft(y).tickValues(nTicks).tickSize(-8).tickFormat("")).call(styleAxis);
  g.append("g").attr("transform", `translate(0,${b})`)
    .call(d3.axisBottom(x).tickValues(minorX).tickSize(-4).tickFormat("")).call(styleAxis);
  g.append("g").attr("transform", `translate(0,${t})`)
    .call(d3.axisTop(x).tickValues(minorX).tickSize(-4).tickFormat("")).call(styleAxis);
  g.append("g").attr("transform", `translate(0,${t})`)
    .call(d3.axisTop(x).tickValues(xTicks).tickSize(-8).tickFormat("")).call(styleAxis);
  const ra = g.append("g").attr("transform", `translate(${r},0)`)
    .call(d3.axisRight(y).tickValues(nTicks).tickSize(-9).tickPadding(7).tickFormat(d3.format("d"))).call(styleAxis);
  ra.selectAll("text").attr("font-size", 21).attr("fill", BLACK).style("font-family", '"Liberation Sans",Arial,sans-serif');
  const ba = g.append("g").attr("transform", `translate(0,${b})`)
    .call(d3.axisBottom(x).tickValues(xTicks).tickSize(-9).tickPadding(5).tickFormat((d, i) => xTickLabels[i])).call(styleAxis);
  ba.selectAll("text").attr("font-size", 21).attr("fill", BLACK).style("font-family", '"Liberation Sans",Arial,sans-serif');

  // frame
  g.append("rect").attr("x", l).attr("y", t).attr("width", r - l).attr("height", b - t)
    .attr("fill", "none").attr("stroke", BLACK).attr("stroke-width", 2);

  // axis titles
  const xc = (l + r) / 2, yc = (t + b) / 2;
  g.append("text").attr("x", xc).attr("y", b + 31).attr("text-anchor", "middle")
    .attr("font-size", 20).attr("font-weight", "bold").text("x/c");
  const cpT = g.append("text").attr("transform", `translate(${l - 30},${yc}) rotate(-90)`)
    .attr("text-anchor", "middle").attr("font-size", 21).attr("font-weight", "bold");
  cpT.append("tspan").text("C");
  cpT.append("tspan").attr("font-size", 14).attr("dy", 3).text("p");
  const nT = g.append("text").attr("transform", `translate(${r + 44},${yc + 4}) rotate(-90)`)
    .attr("text-anchor", "middle").attr("font-size", 21).attr("font-weight", "bold");
  nT.append("tspan").text("N");
  nT.append("tspan").attr("font-size", 14).attr("dy", 4).text("CF");
  nT.append("tspan").attr("dy", -4).text(" , N");
  nT.append("tspan").attr("font-size", 14).attr("dy", 4).text("TS");

  // condition box
  const [mx, my, mw, mh] = P.mBox;
  g.append("rect").attr("x", mx).attr("y", my).attr("width", mw).attr("height", mh)
    .attr("fill", "#fff").attr("stroke", BLACK).attr("stroke-width", 1.5);
  const mt = g.append("text").attr("x", mx + 4).attr("y", my + 15).attr("font-size", 14.5).attr("font-weight", "bold");
  mt.append("tspan").text("M=0.78, Re=20 mill., C");
  mt.append("tspan").attr("font-size", 10).attr("dy", 3).text("L");
  mt.append("tspan").attr("dy", -3).text("=0.1");

  // eta box
  const [ex, ey, ew, eh] = P.etaBox;
  g.append("rect").attr("x", ex).attr("y", ey).attr("width", ew).attr("height", eh)
    .attr("fill", "#fff").attr("stroke", BLACK).attr("stroke-width", 1.5);
  const et = g.append("text").attr("x", ex + 5).attr("y", ey + 17).attr("font-size", 18).attr("font-weight", "bold");
  et.append("tspan").attr("font-weight", "normal").style("font-family", '"Liberation Serif","DejaVu Serif",serif').text("η");
  et.append("tspan").text("=" + etaLabels[pi]);
  g.append("text").attr("x", ex + 4).attr("y", ey + 34).attr("font-size", 18).attr("font-weight", "bold").text(sideLabels[pi]);

  // legend A (quantities)
  const [ax, ay, aw, ah] = P.legA;
  g.append("rect").attr("x", ax).attr("y", ay).attr("width", aw).attr("height", ah)
    .attr("fill", "#fff").attr("stroke", BLACK).attr("stroke-width", 1.5);
  const colsA = [BLACK, GREEN, ORANGE];
  const baseA = [12, 27, 42], lineA = [10.5, 25.5, 38], subDy = [5, 3, 3];
  legendA.forEach((e, k) => {
    const tx = g.append("text").attr("x", ax + 10).attr("y", ay + baseA[k]).attr("font-size", 15).attr("font-weight", "bold");
    tx.append("tspan").text(e[0]);
    tx.append("tspan").attr("font-size", 10).attr("dy", subDy[k]).text(e[1]);
    g.append("line").attr("x1", ax + 40).attr("x2", ax + 90).attr("y1", ay + lineA[k]).attr("y2", ay + lineA[k])
      .attr("stroke", colsA[k]).attr("stroke-width", 1.8);
  });

  // legend B (sources)
  const [bx, by, bw, bh] = P.legB;
  g.append("rect").attr("x", bx).attr("y", by).attr("width", bw).attr("height", bh)
    .attr("fill", "#fff").attr("stroke", BLACK).attr("stroke-width", 1.5);
  const baseB = [19, 33.5, 48, 62];
  legendB.forEach((s, k) => {
    g.append("text").attr("x", bx + 63).attr("y", by + baseB[k]).attr("font-size", 13.8).attr("font-weight", "bold").text(s);
  });
  g.append("line").attr("x1", bx + 6).attr("x2", bx + 55).attr("y1", by + 15).attr("y2", by + 15)
    .attr("stroke", BLACK).attr("stroke-width", 1.8);
  g.append("line").attr("x1", bx + 6).attr("x2", bx + 55).attr("y1", by + 30).attr("y2", by + 30)
    .attr("stroke", BLACK).attr("stroke-width", 1.8).attr("stroke-dasharray", "8,9");
  g.append("rect").attr("x", bx + 21).attr("y", by + 36).attr("width", 8).attr("height", 8).attr("fill", BLACK);
  g.append("rect").attr("x", bx + 21.5).attr("y", by + 53).attr("width", 7).attr("height", 7)
    .attr("fill", "#fff").attr("stroke", BLACK).attr("stroke-width", 1.3);
});
</script>
</body></html>
